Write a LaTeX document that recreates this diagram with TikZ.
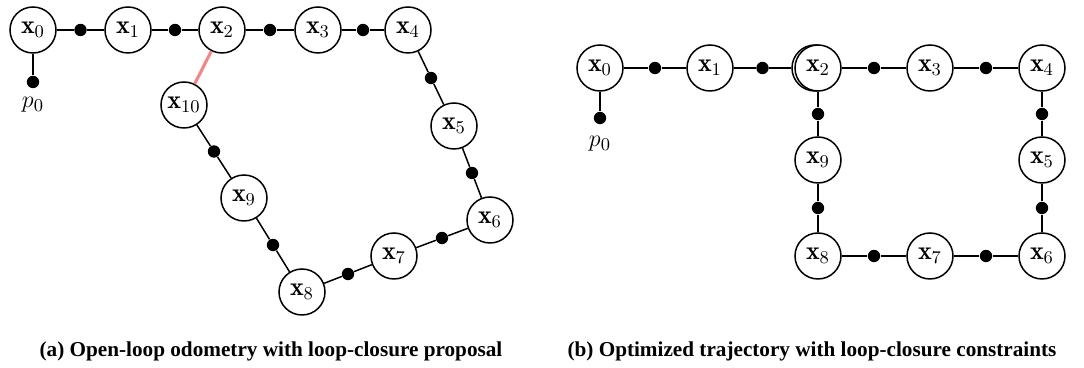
\documentclass[tikz,border=0pt]{standalone}
\usepackage{fontspec}
\newfontfamily\capfont{Liberation Serif}
\usetikzlibrary{calc}
\begin{document}
\begin{tikzpicture}[x=0.5pt,y=-0.5pt,
  var/.style={circle,draw,line width=0.75pt,minimum size=23pt,inner sep=0pt,fill=white,font=\fontsize{13}{15}\selectfont},
  fac/.style={circle,fill,inner sep=0pt,minimum size=6.2pt},
  edge/.style={line width=0.75pt},
  lc/.style={line width=1.5pt,draw=red!50},
  captext/.style={font=\capfont\bfseries\fontsize{10.6}{12}\selectfont}]
\useasboundingbox (0,0) rectangle (1084,368);
% ---------- panel (a)
\node[var] (a0) at (33,30) {$\mathbf{x}_0$};
\node[var] (a1) at (128,30) {$\mathbf{x}_1$};
\node[var] (a2) at (222,30) {$\mathbf{x}_2$};
\node[var] (a3) at (318,30) {$\mathbf{x}_3$};
\node[var] (a4) at (408,30) {$\mathbf{x}_4$};
\node[var] (a5) at (454,126) {$\mathbf{x}_5$};
\node[var] (a6) at (490,220) {$\mathbf{x}_6$};
\node[var] (a7) at (394,256) {$\mathbf{x}_7$};
\node[var] (a8) at (302,292) {$\mathbf{x}_8$};
\node[var] (a9) at (244,198) {$\mathbf{x}_9$};
\node[var] (a10) at (184,105) {$\mathbf{x}_{10}$};
\node[fac] (ap) at (33,82) {};
\node[font=\fontsize{13}{15}\selectfont] (apl) at (33,105) {$p_0$};
\draw[edge] (a0) -- (ap);
\foreach \a/\b in {a0/a1,a1/a2,a2/a3,a3/a4,a4/a5,a5/a6,a6/a7,a7/a8,a8/a9,a9/a10}{
  \node[fac] (f\a\b) at ($(\a)!0.5!(\b)$) {};
  \draw[edge] (\a) -- (f\a\b) -- (\b);
}
\draw[lc] (a2) -- (a10);
% ---------- panel (b)
\node[var] (b0) at (600,68) {$\mathbf{x}_0$};
\node[var] (b1) at (710,68) {$\mathbf{x}_1$};
\node[var] (b10) at (815,68) {};
\node[var] (b2) at (818,68) {$\mathbf{x}_2$};
\node[var] (b3) at (930,68) {$\mathbf{x}_3$};
\node[var] (b4) at (1042,68) {$\mathbf{x}_4$};
\node[var] (b5) at (1042,160) {$\mathbf{x}_5$};
\node[var] (b6) at (1042,256) {$\mathbf{x}_6$};
\node[var] (b7) at (930,256) {$\mathbf{x}_7$};
\node[var] (b8) at (818,256) {$\mathbf{x}_8$};
\node[var] (b9) at (818,160) {$\mathbf{x}_9$};
\node[fac] (bp) at (600,118) {};
\node[font=\fontsize{13}{15}\selectfont] (bpl) at (600,144) {$p_0$};
\draw[edge] (b0) -- (bp);
\foreach \a/\b in {b0/b1,b1/b10,b2/b3,b3/b4,b4/b5,b5/b6,b6/b7,b7/b8,b8/b9,b9/b2}{
  \node[fac] (f\a\b) at ($(\a)!0.5!(\b)$) {};
  \draw[edge] (\a) -- (f\a\b) -- (\b);
}
% ---------- captions
\node[captext] (capa) at (271,351) {(a) Open-loop odometry with loop-closure proposal};
\node[captext] (capb) at (812,351) {(b) Optimized trajectory with loop-closure constraints};
\end{tikzpicture}
\end{document}
